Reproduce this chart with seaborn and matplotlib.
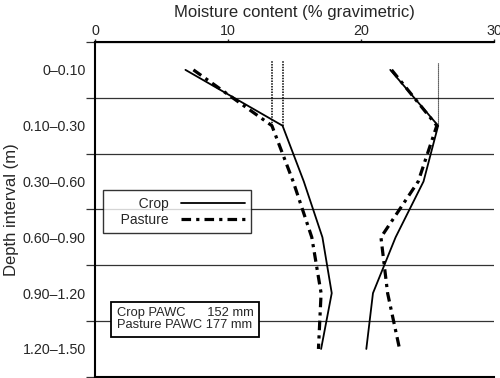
import pandas as pd
import seaborn as sns
import matplotlib.pyplot as plt
from matplotlib.lines import Line2D

# Depth intervals (m)
depths = ['0–0.10', '0.10–0.30', '0.30–0.60', '0.60–0.90', '0.90–1.20', '1.20–1.50']

# Moisture content (% gravimetric), two profiles per land use
crop_low = [6.8, 14.1, 15.7, 17.1, 17.8, 17.0]
crop_high = [22.2, 25.8, 24.7, 22.6, 20.9, 20.4]
pasture_low = [7.4, 13.3, 14.9, 16.3, 17.0, 16.8]
pasture_high = [22.3, 25.7, 24.3, 21.5, 22.0, 22.9]

# top of the dotted reference lines (in depth-index units)
ref_top = [-0.18, -0.18]

crop_pawc = 152
pasture_pawc = 177

rows = []
for use, profiles in [('Crop', [crop_low, crop_high]), ('Pasture', [pasture_low, pasture_high])]:
    for k, vals in enumerate(profiles):
        for i, v in enumerate(vals):
            rows.append({'use': use, 'profile': k, 'depth': i, 'moisture': v})
df = pd.DataFrame(rows)

sns.set_style('ticks')
plt.rcParams['font.family'] = ['Liberation Sans', 'DejaVu Sans']

fig = plt.figure(figsize=(5, 3.78), dpi=100)
ax = fig.add_axes([0.19, 0.003, 0.798, 0.886])

crop_style = dict(color='black', linewidth=1.3, linestyle='-')
past_style = dict(color='black', linewidth=2.3, linestyle=(0, (3, 1.6, 1, 1.6)))

sns.lineplot(data=df[df['use'] == 'Crop'], x='moisture', y='depth', units='profile',
             estimator=None, sort=False, ax=ax, legend=False, **crop_style)
sns.lineplot(data=df[df['use'] == 'Pasture'], x='moisture', y='depth', units='profile',
             estimator=None, sort=False, ax=ax, legend=False, **past_style)

# dotted verticals from the 0.10-0.30 values upward
ax.vlines([pasture_low[1], crop_low[1]], ymin=1, ymax=ref_top, color='black',
          linewidth=1.1, linestyle=(0, (1, 0.8)))
ax.vlines([crop_high[1]], ymin=1, ymax=-0.13, color='black',
          linewidth=0.8, linestyle=(0, (1, 0.8)))

ax.set_xlim(0, 30)
ax.set_ylim(5.5, -0.5)
ax.xaxis.tick_top()
ax.xaxis.set_label_position('top')
ax.set_xticks([0, 10, 20, 30])
ax.set_xlabel('Moisture content (% gravimetric)', fontsize=12, labelpad=5)
ax.set_ylabel('Depth interval (m)', fontsize=12, labelpad=3)

ax.set_yticks(range(len(depths)))
ax.set_yticklabels(depths)
ax.set_yticks([i - 0.5 for i in range(len(depths) + 1)], minor=True)
ax.tick_params(axis='y', which='major', length=0, pad=6.5, labelsize=10.3)
ax.tick_params(axis='y', which='minor', length=6.5, width=0.9, direction='out', color='#333333')
ax.tick_params(axis='x', which='major', length=2.5, width=1, pad=0.5, labelsize=10.3)
ax.grid(which='minor', axis='y', color='#333333', linewidth=0.9)

for s in ['top', 'left', 'bottom']:
    ax.spines[s].set_linewidth(1.5)
    ax.spines[s].set_color('black')
ax.spines['right'].set_visible(False)

handles = [Line2D([], [], **crop_style), Line2D([], [], **past_style)]
leg = ax.legend(handles, ['   Crop', '   Pasture'], loc='upper left', bbox_to_anchor=(0.02, 0.557),
                markerfirst=False, frameon=True, fancybox=False, fontsize=10,
                handlelength=4.6, handletextpad=0.85, borderpad=0.45, labelspacing=0.15,
                borderaxespad=0)
leg.get_frame().set_edgecolor('black')
leg.get_frame().set_linewidth(1.0)

ax.text(0.054, 0.172, f'Crop PAWC      {crop_pawc} mm\nPasture PAWC {pasture_pawc} mm',
        transform=ax.transAxes, fontsize=9.3, va='center', ha='left', linespacing=1.05,
        bbox=dict(boxstyle='square,pad=0.42', facecolor='white', edgecolor='black', linewidth=1.3))

fig.savefig('out.png', dpi=100)
